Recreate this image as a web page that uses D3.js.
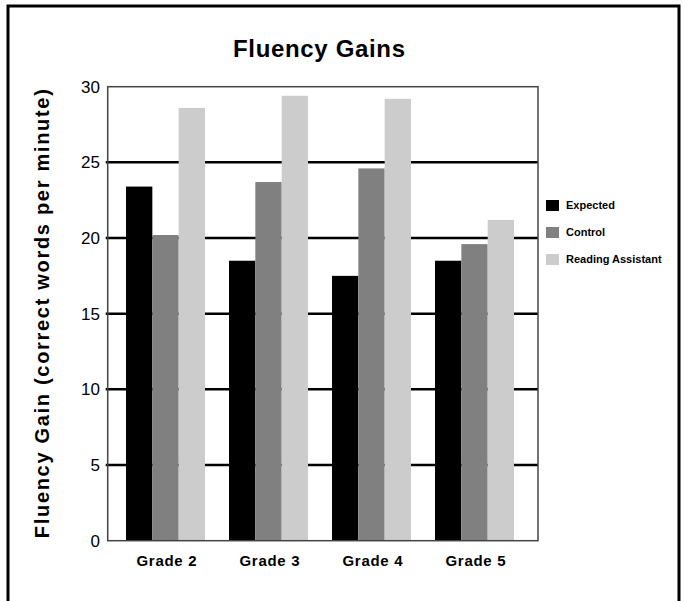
<!DOCTYPE html>
<html>
<head>
<meta charset="utf-8">
<script src="https://cdn.jsdelivr.net/npm/d3@7"></script>
<style>
  body { margin: 0; background: #fff; }
  svg { display: block; font-family: "Liberation Sans", Arial, sans-serif; }
</style>
</head>
<body>
<svg width="683" height="601"></svg>
<script>
// chart data
const grades = ["Grade 2", "Grade 3", "Grade 4", "Grade 5"];
const seriesNames = ["Expected", "Control", "Reading Assistant"];
const expected = [23.4, 18.5, 17.5, 18.5];
const control = [20.2, 23.7, 24.6, 19.6];
const readingAssistant = [28.6, 29.4, 29.2, 21.2];
const yTicks = [0, 5, 10, 15, 20, 25, 30];
const colors = ["#000000", "#808080", "#cccccc"];

const rows = grades.map((g, i) => ({
  grade: g,
  values: [expected[i], control[i], readingAssistant[i]]
}));

const svg = d3.select("svg");

const plotLeft = 107.7, plotRight = 538, plotTop = 86.7, plotBottom = 540.7;

const yScale = d3.scaleLinear().domain([0, 30]).range([plotBottom, plotTop]);

const xScale = d3.scaleBand()
  .domain(grades)
  .range([126, 514])
  .paddingInner(0.233)
  .paddingOuter(0);

const subScale = d3.scaleBand()
  .domain(seriesNames)
  .range([0, xScale.bandwidth()]);

// outer frame
svg.append("rect")
  .attr("x", 8).attr("y", 6)
  .attr("width", 671).attr("height", 610)
  .attr("fill", "none")
  .attr("stroke", "#000")
  .attr("stroke-width", 3);

// title
svg.append("text")
  .attr("x", 319).attr("y", 57)
  .attr("text-anchor", "middle")
  .attr("font-size", 24)
  .attr("font-weight", "bold")
  .attr("textLength", 172)
  .attr("lengthAdjust", "spacing")
  .text("Fluency Gains");

// gridlines
svg.append("g")
  .selectAll("line")
  .data(yTicks.filter(t => t > 0 && t < 30))
  .enter()
  .append("line")
  .attr("x1", plotLeft - 2).attr("x2", plotRight)
  .attr("y1", d => yScale(d)).attr("y2", d => yScale(d))
  .attr("stroke", "#000")
  .attr("stroke-width", 2.5);

// bars
const group = svg.append("g")
  .selectAll("g")
  .data(rows)
  .enter()
  .append("g")
  .attr("transform", d => `translate(${xScale(d.grade)},0)`);

group.selectAll("rect")
  .data(d => d.values.map((v, k) => ({ key: seriesNames[k], value: v, k })))
  .enter()
  .append("rect")
  .attr("x", d => subScale(d.key))
  .attr("width", subScale.bandwidth())
  .attr("y", d => yScale(d.value))
  .attr("height", d => plotBottom - yScale(d.value))
  .attr("fill", d => colors[d.k]);

// plot frame
svg.append("rect")
  .attr("x", plotLeft).attr("y", plotTop)
  .attr("width", plotRight - plotLeft).attr("height", plotBottom - plotTop)
  .attr("fill", "none")
  .attr("stroke", "#444")
  .attr("stroke-width", 1.5);

// y tick labels
svg.append("g")
  .selectAll("text")
  .data(yTicks)
  .enter()
  .append("text")
  .attr("x", 100)
  .attr("y", d => yScale(d))
  .attr("dy", "0.36em")
  .attr("text-anchor", "end")
  .attr("font-size", 17)
  .text(d => d);

// x labels
svg.append("g")
  .selectAll("text")
  .data(grades)
  .enter()
  .append("text")
  .attr("x", d => xScale(d) + xScale.bandwidth() / 2 + 1)
  .attr("y", 566)
  .attr("text-anchor", "middle")
  .attr("font-size", 15)
  .attr("font-weight", "bold")
  .attr("textLength", 60)
  .attr("lengthAdjust", "spacing")
  .text(d => d);

// y axis title
svg.append("text")
  .attr("transform", `translate(42,${(plotTop + plotBottom) / 2}) rotate(-90)`)
  .attr("text-anchor", "middle")
  .attr("dy", "0.36em")
  .attr("font-size", 20)
  .attr("font-weight", "bold")
  .attr("textLength", 449)
  .attr("lengthAdjust", "spacing")
  .text("Fluency Gain (correct words per minute)");

// legend
const legend = svg.append("g")
  .selectAll("g")
  .data(seriesNames)
  .enter()
  .append("g")
  .attr("transform", (d, i) => `translate(546,${200 + i * 27})`);

legend.append("rect")
  .attr("width", 13).attr("height", 11)
  .attr("fill", (d, i) => colors[i]);

legend.append("text")
  .attr("x", 20).attr("y", 5.5)
  .attr("dy", "0.36em")
  .attr("font-size", 11)
  .attr("font-weight", "bold")
  .text(d => d);
</script>
</body>
</html>
